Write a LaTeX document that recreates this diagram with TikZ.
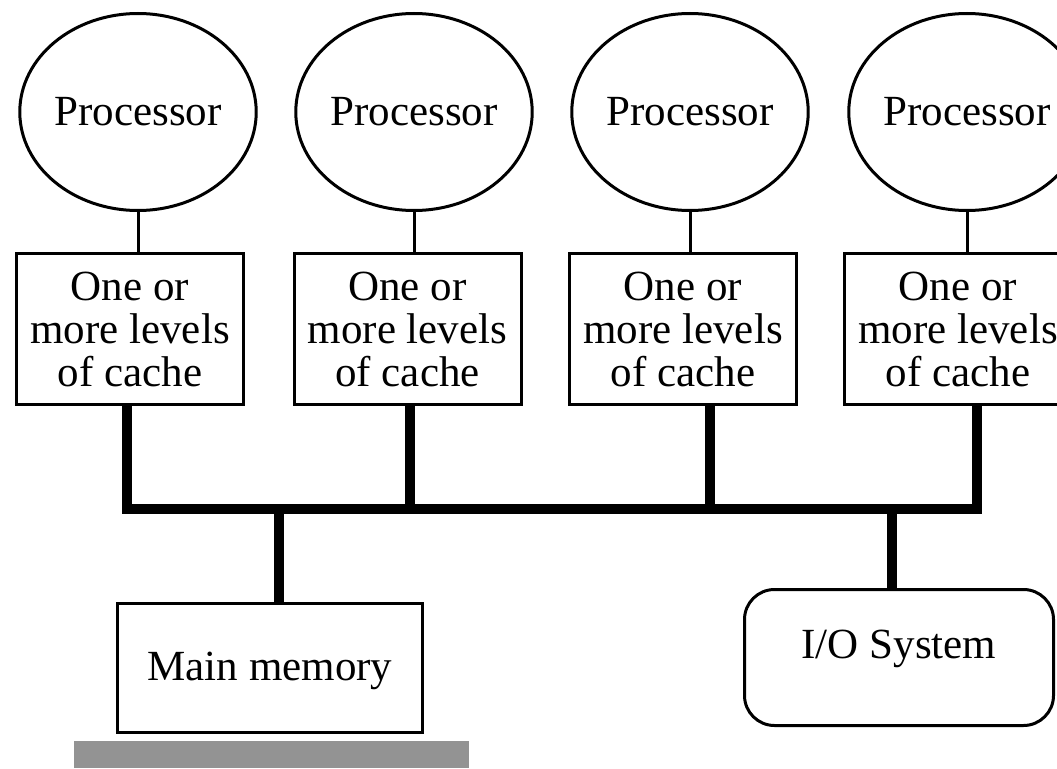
\documentclass[tikz,border=0pt]{standalone}
\usepackage{fontspec}
\setmainfont{Liberation Serif}
\usetikzlibrary{shapes.geometric, positioning, calc}
\definecolor{bargray}{RGB}{147,147,147}
\tikzset{
  proc/.style={ellipse, draw, line width=3pt, minimum width=218pt, minimum height=197pt, inner sep=0pt},
  cachebox/.style={rectangle, draw, line width=3pt, minimum width=227pt, minimum height=151pt, align=center, inner sep=0pt},
  thin/.style={line width=3pt},
  bus/.style={line width=10pt, line join=miter},
}

\begin{document}
\begin{tikzpicture}[x=1pt, y=-1pt, font=\fontsize{43pt}{43pt}\selectfont]
\useasboundingbox (0,0) rectangle (1057,768);

% processors
\node [proc] (p1) at (138,112) {Processor};
\node [proc] (p2) at (414,112) {Processor};
\node [proc] (p3) at (690,112) {Processor};
\node [proc] (p4) at (967,112) {Processor};

% caches
\node [cachebox] (c1) at (130,329) {One or\\more levels\\of cache};
\node [cachebox] (c2) at (407.5,329) {One or\\more levels\\of cache};
\node [cachebox] (c3) at (683,329) {One or\\more levels\\of cache};
\node [cachebox] (c4) at (958,329) {One or\\more levels\\of cache};

\draw [thin] (p1.south) -- (p1.south |- c1.north);
\draw [thin] (p2.south) -- (p2.south |- c2.north);
\draw [thin] (p3.south) -- (p3.south |- c3.north);
\draw [thin] (p4.south) -- (p4.south |- c4.north);

% memory and I/O
\node [rectangle, draw, line width=3pt, inner sep=0pt, minimum width=305pt, text height=76.5pt, text depth=52.5pt] (mem) at (270,668) {Main memory};
\node [rectangle, draw, line width=3pt, rounded corners=30pt, inner sep=0pt, minimum width=309pt, text height=68.5pt, text depth=67.5pt] (io) at (899,657.5) {I/O System};
\fill [bargray] (74,741) rectangle (469,768);

% bus
\coordinate (t1) at (127,508.5);
\coordinate (t2) at (410,508.5);
\coordinate (t3) at (710,508.5);
\coordinate (t4) at (977,508.5);
\coordinate (tm) at (278.5,508.5);
\coordinate (ti) at (892,508.5);
\draw [bus] (c1.south -| t1) -- (t1) -- (t4) -- (c4.south -| t4);
\draw [bus] (c2.south -| t2) -- (t2);
\draw [bus] (c3.south -| t3) -- (t3);
\draw [bus] (tm) -- (mem.north -| tm);
\draw [bus] (ti) -- (io.north -| ti);
\end{tikzpicture}
\end{document}
